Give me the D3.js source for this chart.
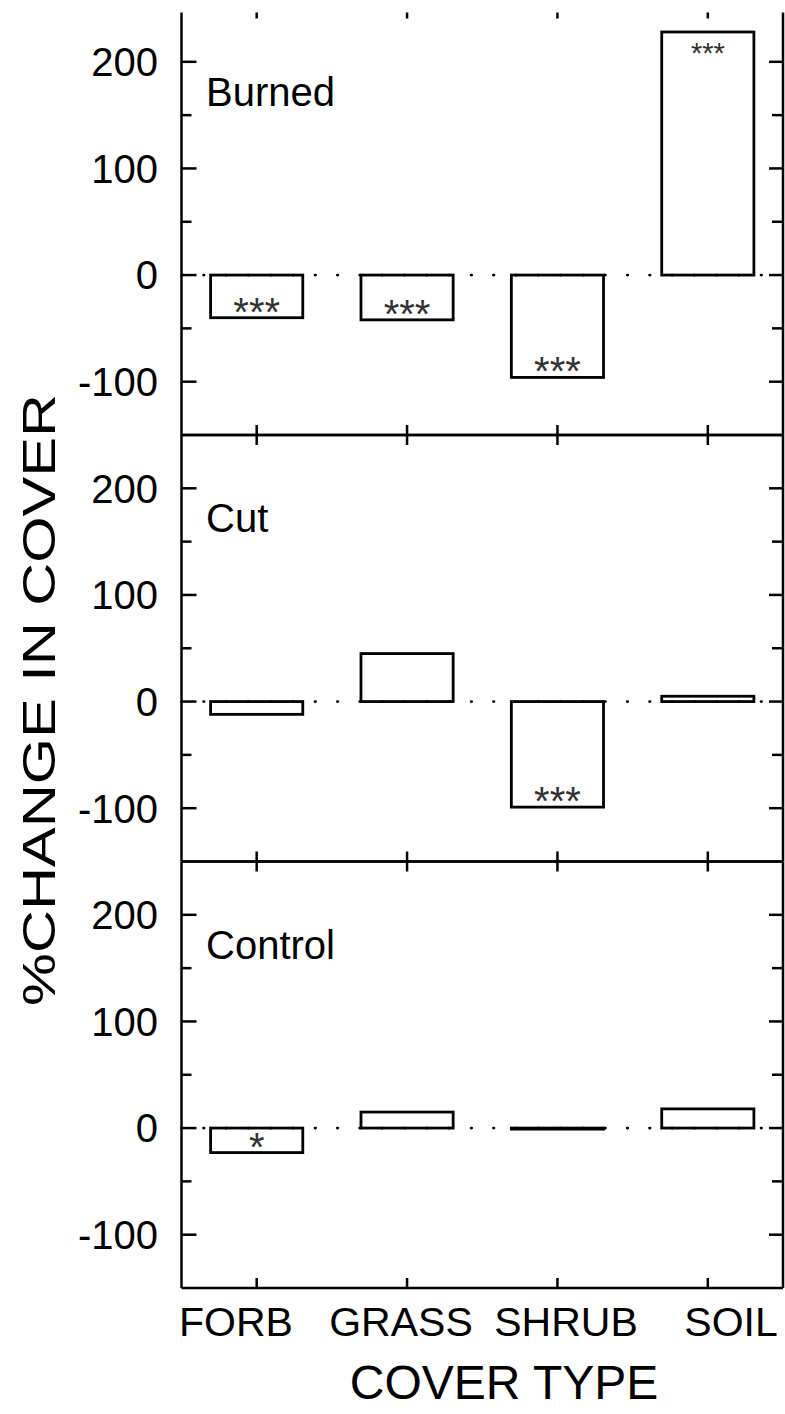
<!DOCTYPE html>
<html>
<head>
<meta charset="utf-8">
<script src="https://cdn.jsdelivr.net/npm/d3@7"></script>
<style>
  html, body { margin: 0; padding: 0; background: #fff; }
  svg { display: block; font-family: "Liberation Sans", Arial, sans-serif; }
</style>
</head>
<body>
<svg id="chart" width="785" height="1414"></svg>
<script>
// Cover types on the x axis
const categories = ["FORB", "GRASS", "SHRUB", "SOIL"];

// Treatments, one panel each
const treatments = ["Burned", "Cut", "Control"];

// % change in cover per cover type
const burnedValues  = [-40, -42, -96, 228];
const cutValues     = [-12, 45, -99, 5];
const controlValues = [-23, 15, -1, 18];

// Significance marks per bar
const burnedSig  = ["***", "***", "***", "***"];
const cutSig     = ["", "", "***", ""];
const controlSig = ["*", "", "", ""];

// Axis ticks
const majorTicks = [-100, 0, 100, 200];
const minorTicks = [-150, -50, 50, 150, 250];
const yDomain = [-150, 250];

const panels = [
  { name: treatments[0], values: burnedValues,  sig: burnedSig,  openTop: true },
  { name: treatments[1], values: cutValues,     sig: cutSig,     openTop: false },
  { name: treatments[2], values: controlValues, sig: controlSig, openTop: false }
];

const svg = d3.select("#chart");
const left = 181.5, right = 783;
const panelH = 426.5;
const firstTop = 8.5;

const x = d3.scaleBand()
  .domain(categories)
  .range([left, right])
  .paddingInner(0.387)
  .paddingOuter(0.1935);
const labelX = d3.scalePoint().domain(categories).range([236, 731]);

panels.forEach((p, i) => {
  const top = firstTop + i * panelH;
  const bottom = top + panelH;
  const y = d3.scaleLinear().domain(yDomain).range([bottom, top]);
  const g = svg.append("g");
  const rows = categories.map((c, j) => ({ c, v: p.values[j], s: p.sig[j] }));

  // bars
  g.selectAll("rect.bar")
    .data(rows)
    .join("rect")
    .attr("class", "bar")
    .attr("x", d => x(d.c))
    .attr("width", x.bandwidth())
    .attr("y", d => y(Math.max(0, d.v)))
    .attr("height", d => Math.abs(y(d.v) - y(0)))
    .attr("fill", "#fff")
    .attr("stroke", "#000")
    .attr("stroke-width", 2.8);

  // dotted zero line
  g.append("line")
    .attr("x1", left).attr("x2", right)
    .attr("y1", y(0)).attr("y2", y(0))
    .attr("stroke", "#000")
    .attr("stroke-width", 2.8)
    .attr("stroke-linecap", "round")
    .attr("stroke-dasharray", "0.5 21.8")
    .attr("stroke-dashoffset", 0.25 - 22.3);

  // significance marks
  g.selectAll("text.sig")
    .data(rows.filter(d => d.s))
    .join("text")
    .attr("class", "sig")
    .attr("x", d => x(d.c) + x.bandwidth() / 2)
    .attr("y", d => d.v < 0 ? y(d.v) + 8 : y(d.v) + 31)
    .attr("text-anchor", "middle")
    .attr("font-size", d => d.v < 0 ? 40 : 29)
    .attr("fill", "#333")
    .text(d => d.s);

  // frame
  const frame = g.append("g").attr("stroke", "#000").attr("stroke-width", 2.5).attr("fill", "none");
  frame.append("line").attr("x1", left).attr("x2", left).attr("y1", p.openTop ? top + 4 : top).attr("y2", bottom);
  frame.append("line").attr("x1", right).attr("x2", right).attr("y1", p.openTop ? top + 4 : top).attr("y2", bottom);
  if (!p.openTop) frame.append("line").attr("x1", left).attr("x2", right).attr("y1", top).attr("y2", top);
  frame.append("line").attr("x1", left).attr("x2", right).attr("y1", bottom).attr("y2", bottom);

  // y ticks on both sides, pointing inward
  const tk = g.append("g").attr("stroke", "#000").attr("stroke-width", 2.5);
  majorTicks.forEach(t => {
    tk.append("line").attr("x1", left).attr("x2", left + 15).attr("y1", y(t)).attr("y2", y(t));
    tk.append("line").attr("x1", right).attr("x2", right - 14).attr("y1", y(t)).attr("y2", y(t));
  });
  minorTicks.filter(t => y(t) > top + 2 && y(t) < bottom - 2).forEach(t => {
    tk.append("line").attr("x1", left).attr("x2", left + 10).attr("y1", y(t)).attr("y2", y(t));
    tk.append("line").attr("x1", right).attr("x2", right - 11).attr("y1", y(t)).attr("y2", y(t));
  });

  // category ticks at top and bottom of each panel
  categories.forEach(c => {
    const cx = x(c) + x.bandwidth() / 2;
    tk.append("line").attr("x1", cx).attr("x2", cx).attr("y1", p.openTop ? top + 4 : top).attr("y2", top + 10);
    tk.append("line").attr("x1", cx).attr("x2", cx).attr("y1", bottom).attr("y2", bottom - 10);
  });

  // y tick labels
  g.selectAll("text.tl")
    .data(majorTicks)
    .join("text")
    .attr("class", "tl")
    .attr("x", 158)
    .attr("y", t => y(t))
    .attr("dy", "0.36em")
    .attr("text-anchor", "end")
    .attr("font-size", 40)
    .attr("fill", "#000")
    .text(t => t);

  // panel label
  g.append("text")
    .attr("x", 206)
    .attr("y", top + 97)
    .attr("font-size", 40)
    .attr("fill", "#000")
    .text(p.name);
});

const plotBottom = firstTop + panels.length * panelH;

// category labels
svg.selectAll("text.cat")
  .data(categories)
  .join("text")
  .attr("class", "cat")
  .attr("x", d => labelX(d))
  .attr("y", plotBottom + 48)
  .attr("text-anchor", "middle")
  .attr("font-size", 41)
  .attr("fill", "#000")
  .text(d => d);

// axis titles
svg.append("text")
  .attr("x", 504)
  .attr("y", 1399)
  .attr("text-anchor", "middle")
  .attr("font-size", 48)
  .attr("fill", "#000")
  .text("COVER TYPE");

svg.append("text")
  .attr("transform", "translate(55,700) rotate(-90)")
  .attr("text-anchor", "middle")
  .attr("font-size", 46)
  .attr("textLength", 612)
  .attr("lengthAdjust", "spacingAndGlyphs")
  .attr("fill", "#000")
  .text("%CHANGE IN COVER");
</script>
</body>
</html>
